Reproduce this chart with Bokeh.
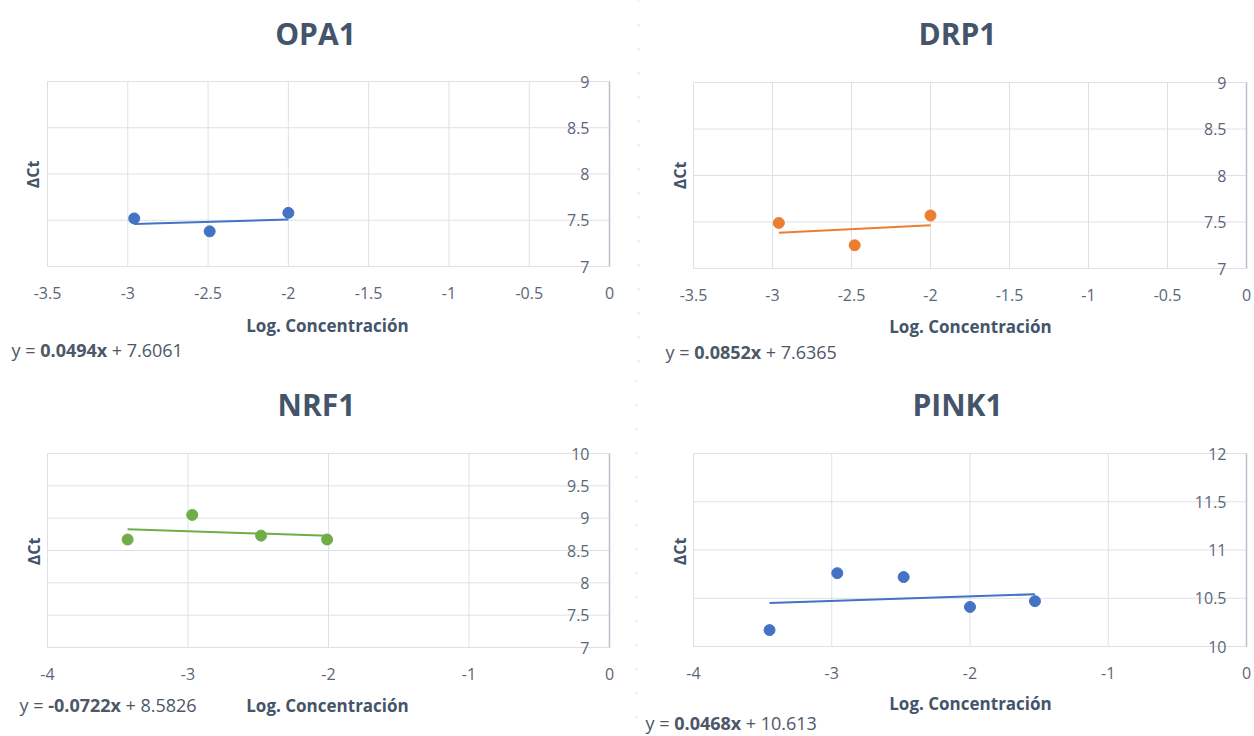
import math
from bokeh.plotting import figure
from bokeh.layouts import column, row
from bokeh.models import Label, Range1d, Span
from bokeh.embed import file_html
from bokeh.resources import INLINE

# ---------------- data ----------------
titles = ["OPA1", "DRP1", "NRF1", "PINK1"]
x_title = "Log. Concentración"
y_title = "ΔCt"

opa1_x = [-2.96, -2.49, -2.00]
opa1_y = [7.52, 7.38, 7.58]
drp1_x = [-2.96, -2.48, -2.00]
drp1_y = [7.49, 7.25, 7.57]
nrf1_x = [-3.43, -2.97, -2.48, -2.01]
nrf1_y = [8.67, 9.05, 8.73, 8.67]
pink1_x = [-3.45, -2.96, -2.48, -2.00, -1.53]
pink1_y = [10.17, 10.76, 10.72, 10.41, 10.47]

slopes = [0.0494, 0.0852, -0.0722, 0.0468]
intercepts = [7.6061, 7.6365, 8.5826, 10.613]

x_ticks_top = [-3.5, -3.0, -2.5, -2.0, -1.5, -1.0, -0.5, 0.0]
x_tick_labels_top = ["-3.5", "-3", "-2.5", "-2", "-1.5", "-1", "-0.5", "0"]
x_ticks_bottom = [-4.0, -3.0, -2.0, -1.0, 0.0]
x_tick_labels_bottom = ["-4", "-3", "-2", "-1", "0"]
y_ticks_opa1 = [7.0, 7.5, 8.0, 8.5, 9.0]
y_tick_labels_opa1 = ["7", "7.5", "8", "8.5", "9"]
y_ticks_drp1 = [7.0, 7.5, 8.0, 8.5, 9.0]
y_tick_labels_drp1 = ["7", "7.5", "8", "8.5", "9"]
y_ticks_nrf1 = [7.0, 7.5, 8.0, 8.5, 9.0, 9.5, 10.0]
y_tick_labels_nrf1 = ["7", "7.5", "8", "8.5", "9", "9.5", "10"]
y_ticks_pink1 = [10.0, 10.5, 11.0, 11.5, 12.0]
y_tick_labels_pink1 = ["10", "10.5", "11", "11.5", "12"]

colors = ["#4472c4", "#ed7d31", "#70ad47", "#4472c4"]

# ---------------- styling ----------------
FONT = "Open Sans"
TITLE_COLOR = "#44546a"
AXIS_TITLE_COLOR = "#44546a"
TICK_COLOR = "#5b6677"
EQ_COLOR = "#4d5767"
GRID_COLOR = "#dde1e7"
AXIS_LINE_COLOR = "#b7bfca"
SEP_COLOR = "#c4c8ce"

# approximate Open Sans advance widths (em)
REG_W = {"d": 0.572, ".": 0.266, "-": 0.322, "x": 0.505, "y": 0.504, " ": 0.26, "=": 0.572, "+": 0.572}
BOLD_W = {"d": 0.572, ".": 0.285, "-": 0.322, "x": 0.564, " ": 0.26}


def text_w(s, size, table):
    w = 0.0
    for ch in s:
        w += table["d"] if ch.isdigit() else table.get(ch, 0.55)
    return w * size


# panel geometry (absolute pixels in page): figure box and plot-area box
geoms = [
    dict(fx=0, fy=0, fw=630, fh=380, L=47, T=81, R=609, B=266,
         title=(315, 33), dct=(32, 174), logc=(327, 325), eq=(11, 349), sep=None),
    dict(fx=630, fy=0, fw=624, fh=380, L=693, T=82, R=1246, B=268,
         title=(957, 33), dct=(679, 175), logc=(970, 326), eq=(665, 351), sep=638),
    dict(fx=0, fy=380, fw=630, fh=356, L=47, T=453, R=609, B=647,
         title=(316, 404), dct=(33, 551), logc=(327, 705), eq=(19, 704), sep=None),
    dict(fx=630, fy=380, fw=624, fh=356, L=693, T=453, R=1246, B=646,
         title=(957, 404), dct=(679, 551), logc=(970, 703), eq=(645, 722), sep=636),
]


def add_label(p, g, X, Y, text, size, bold=False, color=TICK_COLOR, align="left", angle=0.0):
    p.add_layout(Label(
        x=X - g["fx"], y=(g["fy"] + g["fh"]) - Y, x_units="screen", y_units="screen",
        text=text, text_font=FONT, text_font_size=f"{size}px",
        text_font_style="bold" if bold else "normal",
        text_color=color, text_align=align, text_baseline="middle", angle=angle,
    ))


def make_panel(i, xs, ys, xticks, xlabels, yticks, ylabels):
    g = geoms[i]
    color = colors[i]
    xmin, xmax = xticks[0], xticks[-1]
    ymin, ymax = yticks[0], yticks[-1]
    l, r = g["L"] - g["fx"], g["R"] - g["fx"]
    t, b = g["T"] - g["fy"], g["B"] - g["fy"]
    ppx = (r - l) / (xmax - xmin)
    ppy = (b - t) / (ymax - ymin)
    x0 = xmin - l / ppx
    y1 = ymax + t / ppy
    xr = Range1d(x0, x0 + g["fw"] / ppx)
    yr = Range1d(y1 - g["fh"] / ppy, y1)

    p = figure(
        width=g["fw"], height=g["fh"], x_range=xr, y_range=yr,
        output_backend="svg", toolbar_location=None,
        x_axis_location=None, y_axis_location=None,
        min_border=0, background_fill_color="white", border_fill_color="white",
        outline_line_color=None,
    )
    p.grid.visible = False

    # faint dotted separator between the left and right charts
    if g["sep"] is not None:
        p.add_layout(Span(location=x0 + (g["sep"] - g["fx"]) / ppx, dimension="height",
                          line_color=SEP_COLOR, line_width=1.5, line_dash="1 23"))

    nx, ny = len(xticks), len(yticks)
    # gridlines of the plot area
    p.segment(x0=xticks, y0=[ymin] * nx, x1=xticks, y1=[ymax] * nx,
              line_color=GRID_COLOR, line_width=1)
    p.segment(x0=[xmin] * ny, y0=yticks, x1=[xmax] * ny, y1=yticks,
              line_color=GRID_COLOR, line_width=1)
    # vertical axis line at x = 0 (right edge)
    p.segment(x0=[xmax], y0=[ymin], x1=[xmax], y1=[ymax],
              line_color=AXIS_LINE_COLOR, line_width=1.5)

    # tick labels
    p.text(x=xticks, y=[ymin] * nx, text=xlabels, y_offset=26,
           text_align="center", text_baseline="middle",
           text_font={"value": FONT}, text_font_size="16px", text_color=TICK_COLOR)
    p.text(x=[xmax] * ny, y=yticks, text=ylabels, x_offset=-20,
           text_align="right", text_baseline="middle",
           text_font={"value": FONT}, text_font_size="16px", text_color=TICK_COLOR)

    # trendline from the equation, and the points
    m, c = slopes[i], intercepts[i]
    lx = [min(xs), max(xs)]
    ly = [m * v + c for v in lx]
    p.line(lx, ly, line_color=color, line_width=2)
    p.scatter(xs, ys, size=11, fill_color=color, line_color=color)

    # texts
    add_label(p, g, *g["title"], titles[i], 30, bold=True, color=TITLE_COLOR, align="center")
    add_label(p, g, *g["dct"], y_title, 16, bold=True, color=AXIS_TITLE_COLOR,
              align="center", angle=math.pi / 2)
    add_label(p, g, *g["logc"], x_title, 17, bold=True, color=AXIS_TITLE_COLOR, align="center")

    # equation with bold coefficient
    eq_size = 18
    coef = f"{m:.3g}x"
    const = f"+ {c:.5g}"
    X0, Y0 = g["eq"]
    xb = X0 + text_w("y = ", eq_size, REG_W)
    add_label(p, g, X0, Y0, "y =", eq_size, color=EQ_COLOR)
    add_label(p, g, xb, Y0, coef, eq_size, bold=True, color=EQ_COLOR)
    xc = xb + text_w(coef, eq_size, BOLD_W) + text_w(" ", eq_size, REG_W)
    add_label(p, g, xc, Y0, const, eq_size, color=EQ_COLOR)
    return p


p1 = make_panel(0, opa1_x, opa1_y, x_ticks_top, x_tick_labels_top, y_ticks_opa1, y_tick_labels_opa1)
p2 = make_panel(1, drp1_x, drp1_y, x_ticks_top, x_tick_labels_top, y_ticks_drp1, y_tick_labels_drp1)
p3 = make_panel(2, nrf1_x, nrf1_y, x_ticks_bottom, x_tick_labels_bottom, y_ticks_nrf1, y_tick_labels_nrf1)
p4 = make_panel(3, pink1_x, pink1_y, x_ticks_bottom, x_tick_labels_bottom, y_ticks_pink1, y_tick_labels_pink1)

layout = column(row(p1, p2, spacing=0), row(p3, p4, spacing=0), spacing=0)

with open("out.html", "w") as f:
    f.write(file_html(layout, INLINE, title="qPCR"))
